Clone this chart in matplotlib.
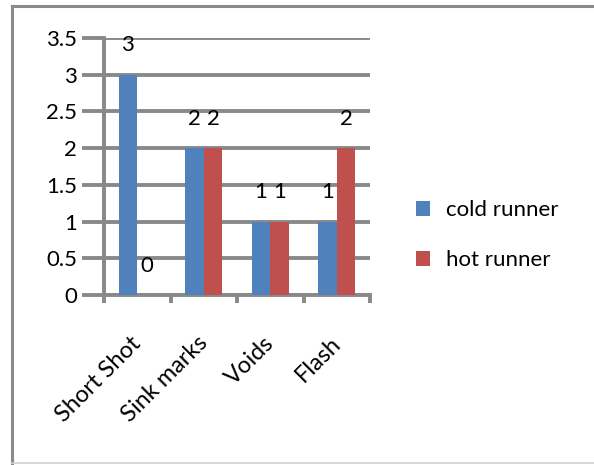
import matplotlib
matplotlib.use("Agg")
import matplotlib.pyplot as plt
import matplotlib.transforms as mtransforms
from matplotlib.lines import Line2D
import numpy as np

categories = ["Short Shot", "Sink marks", "Voids", "Flash"]
cold_runner = [3, 2, 1, 1]
hot_runner = [0, 2, 1, 2]
y_ticks = [0, 0.5, 1, 1.5, 2, 2.5, 3, 3.5]
y_tick_labels = ["0", "0.5", "1", "1.5", "2", "2.5", "3", "3.5"]

plt.rcParams['font.family'] = ['Lato', 'DejaVu Sans']
grid_col = '#898989'
blue = '#4F81BD'
red = '#C0504D'
fs = 16

fig = plt.figure(figsize=(5.94, 4.65), dpi=100)
W, H = 594, 465
ax = fig.add_axes([104 / W, 1 - 295 / H, 266 / W, 257 / H])

x = np.arange(len(categories))
w = 0.28
ax.bar(x - w / 2, cold_runner, w, color=blue, label='cold runner', zorder=3)
ax.bar(x + w / 2, hot_runner, w, color=red, label='hot runner', zorder=3)

# value labels sit a little above each bar
for i in range(len(categories)):
    ax.text(x[i] - w / 2, cold_runner[i] + 0.4, str(cold_runner[i]),
            ha='center', va='center', fontsize=fs, zorder=4)
    ax.text(x[i] + w / 2, hot_runner[i] + 0.4, str(hot_runner[i]),
            ha='center', va='center', fontsize=fs, zorder=4)

ax.set_xlim(-0.5, len(categories) - 0.5)
ax.set_ylim(0, 3.5)
ax.set_yticks(y_ticks)
ax.set_yticklabels(y_tick_labels, fontsize=fs)
ax.yaxis.grid(True, color=grid_col, linewidth=2.8, zorder=0)
ax.set_axisbelow(True)
ax.tick_params(axis='y', length=15.5, width=2.8, color=grid_col, pad=4)

ax.set_xticks(x)
ax.set_xticklabels(categories, fontsize=17, rotation=45, ha='right',
                   va='top', rotation_mode='anchor')
ax.tick_params(axis='x', which='major', length=0, pad=27)
shift = mtransforms.ScaledTranslation(-7 / 100, 0, fig.dpi_scale_trans)
for lbl in ax.get_xticklabels():
    lbl.set_transform(lbl.get_transform() + shift)
ax.set_xticks(np.arange(-0.5, len(categories), 1), minor=True)
ax.tick_params(axis='x', which='minor', length=6, width=2.8, color=grid_col)

for s in ['top', 'right']:
    ax.spines[s].set_visible(False)
for s in ['left', 'bottom']:
    ax.spines[s].set_color(grid_col)
    ax.spines[s].set_linewidth(2.8)

ax.legend(loc='center left', bbox_to_anchor=(396 / W, 1 - 235 / H),
          bbox_transform=fig.transFigure, frameon=False, fontsize=fs,
          handlelength=0.65, handleheight=0.65, handletextpad=0.7,
          labelspacing=1.35)

# outer chart frame
frame = dict(color='#8a8a8a', linewidth=2.2, transform=fig.transFigure)
fig.add_artist(Line2D([12 / W, 12 / W], [1 - 6 / H, 1 - 463 / H], **frame))
fig.add_artist(Line2D([12 / W, 1.0], [1 - 6 / H, 1 - 6 / H], **frame))
fig.add_artist(Line2D([12 / W, 1.0], [1 - 463 / H, 1 - 463 / H],
                      color='#d0d0d0', linewidth=1.2, transform=fig.transFigure))

fig.savefig("out.png", dpi=100)
